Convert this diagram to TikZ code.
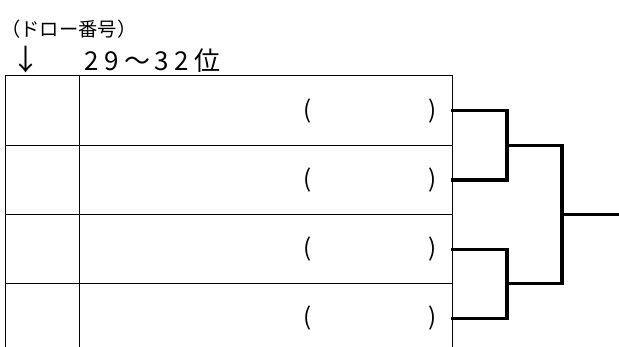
\documentclass[tikz,border=0pt]{standalone}
\usepackage{fontspec}
\setmainfont{Noto Sans CJK JP}
\newfontfamily\jp{Noto Sans CJK JP}
\begin{document}
\begin{tikzpicture}[x=1pt,y=-1pt,
  cell/.style={draw=black,line width=1pt,rectangle,inner sep=0pt,minimum height=69.3pt},
  numcell/.style={cell,minimum width=73.3pt},
  namecell/.style={cell,minimum width=373pt},
  par/.style={inner sep=0pt,font=\jp\fontsize{24}{24}\selectfont},
  br/.style={line width=3.3pt,line cap=rect},
  fin/.style={line width=2.3pt}]
\useasboundingbox (0,0) rectangle (619,347);
\fill[white] (0,0) rectangle (619,347);
\node[anchor=west,inner sep=0pt,font=\jp\fontsize{19.3}{19.3}\selectfont] (lbl) at (1,29) {（ドロー番号）};
\node[inner sep=0pt,font=\jp\fontsize{29}{29}\selectfont] (arr) at (26,59.5) {↓};
\node[anchor=base west,inner sep=0pt,font=\jp\fontsize{26}{26}\selectfont] (rank) at (84,70.5) {2\kern5.5pt 9\kern5.5pt〜\kern4.5pt 3\kern5.5pt 2\kern5.5pt 位};
\begin{scope}
\clip (0,0) rectangle (619,347);
\foreach \i/\y in {1/110.6,2/179.9,3/249.2,4/318.5}{
  \node[numcell] (n\i) at (42.4,\y) {};
  \node[namecell] (r\i) at (265.6,\y) {};
  \node[par] (lp\i) at (308,\y) {(};
  \node[par] (rp\i) at (433,\y) {)};
}
\end{scope}
\coordinate (j1) at (507,145.25);
\coordinate (j2) at (507,283.85);
\coordinate (j3) at (562,214.55);
\coordinate (w) at (619,214.55);
\draw[br] (r1.east) -| (j1) |- (r2.east);
\draw[br] (r3.east) -| (j2) |- (r4.east);
\draw[br] (j1) -| (j3) |- (j2);
\draw[fin] (j3) -- (w);
\end{tikzpicture}
\end{document}
